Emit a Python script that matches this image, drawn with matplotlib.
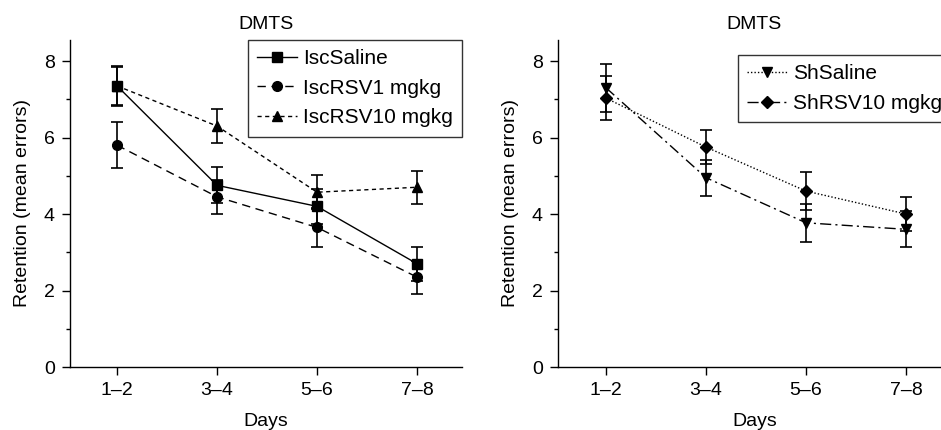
import numpy as np
import matplotlib
matplotlib.use('Agg')
import matplotlib.pyplot as plt
from matplotlib.ticker import MultipleLocator
from matplotlib.lines import Line2D

plt.rcParams['font.family'] = ['Liberation Sans', 'DejaVu Sans']
plt.rcParams['font.size'] = 14

days = ['1\u20132', '3\u20134', '5\u20136', '7\u20138']

# left panel
isc_saline = [7.35, 4.75, 4.2, 2.7]
isc_saline_err = [0.52, 0.47, 0.45, 0.45]
isc_rsv1 = [5.8, 4.45, 3.65, 2.35]
isc_rsv1_err = [0.6, 0.45, 0.5, 0.43]
isc_rsv10 = [7.35, 6.3, 4.57, 4.7]
isc_rsv10_err = [0.5, 0.45, 0.45, 0.43]

# right panel
sh_saline = [7.3, 4.95, 3.77, 3.6]
sh_saline_err = [0.62, 0.47, 0.5, 0.47]
sh_rsv10 = [7.03, 5.75, 4.6, 4.0]
sh_rsv10_err = [0.57, 0.45, 0.5, 0.45]

x = np.arange(1, len(days) + 1)

SOLID = '-'
DASHED = (0, (6, 4))
SHORTDASH = (0, (3, 2.5))
DOTTED = (0, (1, 1.5))
DASHDOT = (0, (8, 3, 1.5, 3))

fig = plt.figure(figsize=(9.41, 4.3), dpi=100)
ax1 = fig.add_axes([0.0744, 0.1465, 0.4166, 0.7605])
ax2 = fig.add_axes([0.593, 0.1465, 0.4176, 0.7605])

err_kw = dict(fmt='none', ecolor='black', elinewidth=1.2, capsize=4, capthick=1.2)


def series(ax, y, err, marker, ls, ms=7):
    ax.errorbar(x, y, yerr=err, **err_kw)
    ax.plot(x, y, color='black', linewidth=1.0, linestyle=ls, marker=marker,
            markersize=ms)


def handle(marker, ls, label, ms=7):
    return Line2D([], [], color='black', linewidth=1.0, linestyle=ls,
                  marker=marker, markersize=ms, label=label)


series(ax1, isc_saline, isc_saline_err, 's', SOLID)
series(ax1, isc_rsv1, isc_rsv1_err, 'o', DASHED)
series(ax1, isc_rsv10, isc_rsv10_err, '^', SHORTDASH)

# in the source figure the triangle series is drawn dash-dot, the diamonds dotted
series(ax2, sh_saline, sh_saline_err, 'v', DASHDOT)
series(ax2, sh_rsv10, sh_rsv10_err, 'D', DOTTED, ms=6.5)

for ax in (ax1, ax2):
    ax.set_ylim(0, 8.55)
    ax.yaxis.set_major_locator(MultipleLocator(2))
    ax.yaxis.set_minor_locator(MultipleLocator(1))
    ax.set_xticks(x)
    ax.set_xticklabels(days)
    ax.spines['top'].set_visible(False)
    ax.spines['right'].set_visible(False)
    for s in ('left', 'bottom'):
        ax.spines[s].set_linewidth(1.0)
    ax.tick_params(which='major', direction='out', length=6, width=1.0,
                   labelsize=14, pad=5)
    ax.tick_params(which='minor', direction='out', length=3, width=1.0)
    ax.set_xlabel('Days', fontsize=14, labelpad=10)
    ax.set_ylabel('Retention (mean errors)', fontsize=14, labelpad=9)
    ax.set_title('DMTS', fontsize=14, pad=8)

ax1.set_xlim(0.53, 4.45)
ax2.set_xlim(0.52, 4.45)

leg_kw = dict(frameon=True, fancybox=False, edgecolor='black', fontsize=15,
              handlelength=1.9, handletextpad=0.3, borderpad=0.45,
              labelspacing=0.5, borderaxespad=0)
l1 = ax1.legend(handles=[handle('s', SOLID, 'IscSaline'),
                         handle('o', DASHED, 'IscRSV1 mgkg'),
                         handle('^', SHORTDASH, 'IscRSV10 mgkg')],
                loc='upper right', bbox_to_anchor=(1.0, 1.0), **leg_kw)
l2 = ax2.legend(handles=[handle('v', DOTTED, 'ShSaline'),
                         handle('D', DASHDOT, 'ShRSV10 mgkg', ms=6.5)],
                loc='upper left', bbox_to_anchor=(0.458, 0.954), **leg_kw)
for l in (l1, l2):
    l.get_frame().set_linewidth(1.0)

fig.savefig('out.png', dpi=100)
